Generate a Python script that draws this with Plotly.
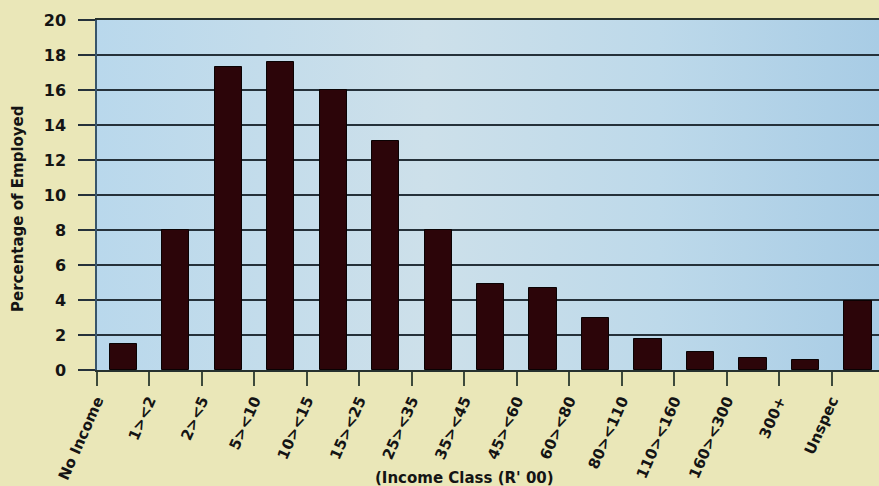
import base64
import plotly.graph_objects as go

# Income classes (R' 00) and share of employed people in each class (%)
categories = ["No Income", "1><2", "2><5", "5><10", "10><15", "15><25", "25><35",
              "35><45", "45><60", "60><80", "80><110", "110><160", "160><300",
              "300+", "Unspec"]
percent_employed = [1.5, 8.0, 17.3, 17.6, 16.0, 13.1, 8.0, 4.9, 4.7, 3.0, 1.75,
                    1.05, 0.7, 0.6, 3.95]
y_ticks = list(range(0, 21, 2))

# each bar sits in the interval to the right of its class label
bar_x = [i + 0.5 for i in range(len(categories))]
tick_pos = list(range(len(categories)))

INK = "#141414"
FONT = "DejaVu Sans"

fig = go.Figure()
fig.add_trace(go.Bar(
    x=bar_x,
    y=percent_employed,
    width=0.52,
    marker=dict(color="#2c0509", line=dict(color="#0a0203", width=1)),
    hoverinfo="y",
))

# soft blue gradient behind the plot area
svg = (
    '<svg xmlns="http://www.w3.org/2000/svg" width="200" height="100" '
    'preserveAspectRatio="none" viewBox="0 0 200 100">'
    '<defs><linearGradient id="g" x1="0" y1="0" x2="1" y2="0">'
    '<stop offset="0" stop-color="#b9d8ec"/>'
    '<stop offset="0.42" stop-color="#cde0ea"/>'
    '<stop offset="0.72" stop-color="#bdd9ea"/>'
    '<stop offset="1" stop-color="#a8cce5"/>'
    '</linearGradient></defs>'
    '<rect width="200" height="100" fill="url(#g)"/></svg>'
)
bg_uri = "data:image/svg+xml;base64," + base64.b64encode(svg.encode()).decode()

fig.update_layout(
    width=879,
    height=486,
    margin=dict(l=97, r=0, t=20, b=116, pad=0),
    paper_bgcolor="#eae7b8",
    plot_bgcolor="rgba(0,0,0,0)",
    showlegend=False,
    bargap=0,
    font=dict(family=FONT, color=INK),
    images=[dict(
        source=bg_uri, xref="paper", yref="paper", x=0, y=1,
        sizex=1, sizey=1, sizing="stretch", layer="below",
        xanchor="left", yanchor="top",
    )],
    xaxis=dict(
        range=[0, 14.9],
        tickmode="array",
        tickvals=tick_pos,
        ticktext=categories,
        tickangle=-66,
        ticks="outside",
        ticklen=14,
        tickwidth=2,
        tickcolor="#3e4b3c",
        tickfont=dict(family=FONT, size=15, color=INK, weight="bold"),
        showgrid=False,
        zeroline=False,
        showline=True,
        linecolor="#27322f",
        linewidth=2,
        mirror=True,
    ),
    yaxis=dict(
        range=[0, 20],
        tickmode="array",
        tickvals=y_ticks,
        ticks="outside",
        ticklen=17,
        tickwidth=2,
        tickcolor="#25313a",
        ticklabelstandoff=9,
        tickfont=dict(family=FONT, size=16, color=INK, weight="bold"),
        showgrid=True,
        gridcolor="#25313a",
        gridwidth=2,
        zeroline=False,
        showline=True,
        linecolor="#38556a",
        linewidth=1.5,
    ),
    annotations=[
        dict(
            text="Percentage of Employed",
            xref="paper", yref="paper",
            x=-79 / 782, y=0.46,
            xanchor="center", yanchor="middle",
            textangle=-90, showarrow=False,
            font=dict(family=FONT, size=15, color=INK, weight="bold"),
        ),
        dict(
            text="(Income Class (R' 00)",
            xref="paper", yref="paper",
            x=(464 - 97) / 782, y=(370 - 478) / 350,
            xanchor="center", yanchor="middle",
            showarrow=False,
            font=dict(family=FONT, size=15, color=INK, weight="bold"),
        ),
    ],
)

fig.write_html("out.html")
